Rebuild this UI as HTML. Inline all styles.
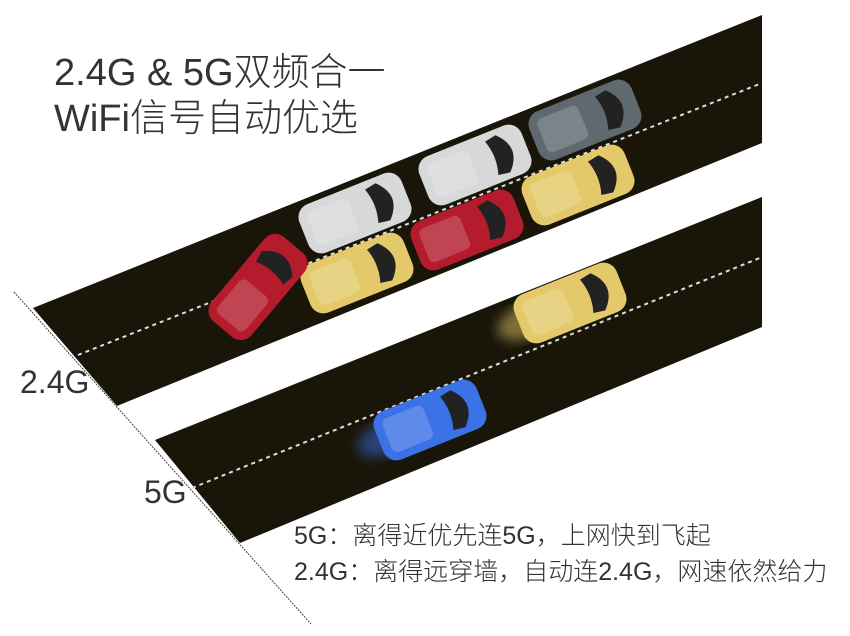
<!DOCTYPE html>
<html><head><meta charset="utf-8"><style>
body{margin:0;background:#fff;width:850px;height:636px;overflow:hidden;font-family:"Liberation Sans","Noto Sans CJK SC",sans-serif}
svg{position:absolute;left:0;top:0}
.t{position:absolute;color:#333;white-space:nowrap;font-weight:300}
</style></head><body>
<svg width="850" height="636" viewBox="0 0 850 636">
<defs>
<g id="car">
<rect x="-55" y="-26" width="110" height="52" rx="14"/>
<path d="M18,-18 L30,-20 Q40,-10 40,0 Q40,10 30,20 L18,18 Q24,0 18,-18Z" fill="#222"/>
<rect x="-46" y="-18" width="44" height="36" rx="6" fill="rgba(255,255,255,0.18)"/>
</g>
<filter id="bl"><feGaussianBlur stdDeviation="6"/></filter>
</defs>
<line x1="14" y1="292" x2="311" y2="624" stroke="#444" stroke-width="1" stroke-dasharray="2,1"/>
<polygon points="33,308 762,15 762,143 117,406" fill="#1a1509"/>
<line x1="78" y1="355" x2="762" y2="83" stroke="#ddd" stroke-width="2" stroke-dasharray="4,4"/>
<polygon points="155,440 762,197 762,327 240,543" fill="#1a1509"/>
<line x1="192" y1="488" x2="762" y2="257" stroke="#ddd" stroke-width="2" stroke-dasharray="4,4"/>
<use href="#car" transform="translate(585,120) rotate(-21.8)" fill="#5f6a70"/>
<use href="#car" transform="translate(475,165) rotate(-21.8)" fill="#d7d8da"/>
<use href="#car" transform="translate(355,213) rotate(-21.8)" fill="#d7d8da"/>
<use href="#car" transform="translate(578,185) rotate(-21.8)" fill="#e3c96a"/>
<use href="#car" transform="translate(467,230) rotate(-21.8)" fill="#b41c2e"/>
<use href="#car" transform="translate(357,273) rotate(-21.8)" fill="#e3c96a"/>
<use href="#car" transform="translate(258,287) rotate(-50)" fill="#b41c2e"/>
<ellipse cx="535" cy="318" rx="40" ry="18" fill="#e3c96a" opacity="0.5" filter="url(#bl)" transform="rotate(-21.8 535 318)"/>
<use href="#car" transform="translate(570,303) rotate(-21.8)" fill="#e3c96a"/>
<ellipse cx="395" cy="435" rx="40" ry="18" fill="#3b6fe0" opacity="0.5" filter="url(#bl)" transform="rotate(-21.8 395 435)"/>
<use href="#car" transform="translate(430,420) rotate(-21.8)" fill="#3b72e6"/>
</svg>
<div class="t" style="left:54px;top:50px;font-size:38px;line-height:46px">2.4G &amp; 5G双频合一<br>WiFi信号自动优选</div>
<div class="t" style="left:20px;top:364px;font-size:32px">2.4G</div>
<div class="t" style="left:144px;top:474px;font-size:32px">5G</div>
<div class="t" style="left:294px;top:518px;font-size:25px;line-height:36px">5G：离得近优先连5G，上网快到飞起<br>2.4G：离得远穿墙，自动连2.4G，网速依然给力</div>
</body></html>
